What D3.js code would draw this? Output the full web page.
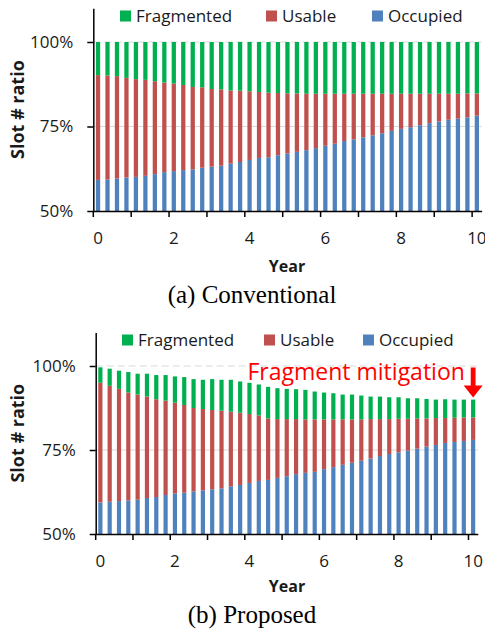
<!DOCTYPE html>
<html>
<head>
<meta charset="utf-8">
<script src="https://cdn.jsdelivr.net/npm/d3@7"></script>
<style>
  body { margin: 0; background: #fff; }
  svg text { font-family: "Open Sans", sans-serif; fill: #1a1a1a; }
</style>
</head>
<body>
<div id="chart"></div>
<script>
// quarterly samples over ten years
var years = [0, 0.25, 0.5, 0.75, 1, 1.25, 1.5, 1.75, 2, 2.25, 2.5, 2.75, 3, 3.25, 3.5, 3.75,
  4, 4.25, 4.5, 4.75, 5, 5.25, 5.5, 5.75, 6, 6.25, 6.5, 6.75, 7, 7.25, 7.5, 7.75,
  8, 8.25, 8.5, 8.75, 9, 9.25, 9.5, 9.75, 10];
var keys = ["Occupied", "Usable", "Fragmented"];
var legendOrder = ["Fragmented", "Usable", "Occupied"];
var yTicks = [50, 75, 100];
var xLabels = [0, 2, 4, 6, 8, 10];

// (a) Conventional, values in %
var occupiedA = [59.2, 59.3, 59.6, 59.9, 60.1, 60.4, 60.9, 61.5, 61.8, 62.1, 62.3, 62.8, 63.1, 63.4, 64.0, 64.5,
  65.1, 65.7, 65.9, 66.5, 67.0, 67.5, 68.0, 68.6, 69.3, 69.9, 70.7, 71.2, 71.8, 72.4, 73.0, 73.7,
  74.3, 74.8, 75.4, 76.0, 76.5, 77.0, 77.3, 77.7, 78.2];
var usableA = [31.0, 30.8, 30.3, 29.5, 28.9, 28.4, 27.5, 26.5, 25.9, 25.2, 24.4, 23.8, 23.0, 22.6, 21.7, 21.1,
  20.3, 19.5, 19.1, 18.4, 17.8, 17.3, 16.7, 16.1, 15.4, 14.8, 14.0, 13.5, 12.9, 12.3, 11.7, 11.0,
  10.4, 9.9, 9.3, 8.7, 8.2, 7.7, 7.4, 7.1, 6.6];
var fragmentedA = [9.8, 9.9, 10.1, 10.6, 11.0, 11.2, 11.6, 12.0, 12.3, 12.7, 13.3, 13.4, 13.9, 14.0, 14.3, 14.4,
  14.6, 14.8, 15.0, 15.1, 15.2, 15.2, 15.3, 15.3, 15.3, 15.3, 15.3, 15.3, 15.3, 15.3, 15.3, 15.3,
  15.3, 15.3, 15.3, 15.3, 15.3, 15.3, 15.3, 15.2, 15.2];

// (b) Proposed, values in %
var occupiedB = [59.4, 59.6, 59.8, 60.0, 60.2, 60.7, 61.0, 61.6, 62.1, 62.3, 62.7, 63.0, 63.3, 63.6, 64.2, 64.6,
  65.2, 65.8, 66.1, 66.7, 67.2, 67.8, 68.2, 68.5, 69.3, 69.9, 70.6, 71.2, 71.8, 72.5, 73.2, 73.8,
  74.3, 74.8, 75.4, 76.0, 76.5, 77.1, 77.4, 77.7, 78.0];
var usableB = [35.6, 34.5, 33.4, 32.1, 31.3, 30.2, 29.1, 28.1, 27.0, 26.1, 24.8, 24.2, 23.6, 23.1, 22.2, 21.5,
  20.5, 19.5, 18.3, 17.5, 17.0, 16.4, 15.9, 15.6, 14.8, 14.2, 13.5, 12.9, 12.3, 11.7, 11.0, 10.4,
  10.0, 9.5, 9.0, 8.4, 8.0, 7.4, 7.2, 7.0, 6.7];
var fragmentedB = [4.6, 5.1, 5.4, 6.1, 6.2, 6.8, 7.2, 7.6, 7.8, 8.3, 8.6, 8.7, 9.2, 9.2, 9.5, 9.3,
  9.3, 9.2, 9.4, 9.2, 9.0, 8.9, 8.8, 8.3, 8.0, 7.8, 7.4, 7.4, 7.1, 6.7, 6.7, 6.5,
  6.4, 6.1, 6.0, 5.8, 5.5, 5.6, 5.4, 5.3, 5.3];

var color = d3.scaleOrdinal()
  .domain(keys)
  .range(["#4f81bd", "#c0504d", "#00b050"]);

var svg = d3.select("#chart")
  .append("svg")
  .attr("width", 485)
  .attr("height", 632);

function drawPanel(cfg, occ, use, frag) {
  var rows = years.map(function(yr, i) {
    return {year: yr, Occupied: occ[i], Usable: use[i], Fragmented: frag[i]};
  });
  var series = d3.stack().keys(keys)(rows);

  var x = d3.scaleBand()
    .domain(years)
    .range([cfg.left, cfg.right])
    .paddingInner(0.55)
    .paddingOuter(0.275);
  var y = d3.scaleLinear()
    .domain([50, 110])
    .range([cfg.bottom, cfg.top])
    .clamp(true);

  var g = svg.append("g");

  // gridlines
  g.selectAll(".grid")
    .data([75, 100])
    .enter()
    .append("line")
      .attr("x1", cfg.left)
      .attr("x2", cfg.right)
      .attr("y1", function(d) { return y(d); })
      .attr("y2", function(d) { return y(d); })
      .style("stroke", "#d9d9d9")
      .style("stroke-width", 1)
      .style("stroke-dasharray", function(d) { return d == 100 ? "7,4" : null; });

  g.selectAll(".layer")
    .data(series)
    .enter()
    .append("g")
      .style("fill", function(d) { return color(d.key); })
    .selectAll("rect")
    .data(function(d) { return d; })
    .enter()
    .append("rect")
      .attr("x", function(d) { return x(d.data.year); })
      .attr("width", x.bandwidth())
      .attr("y", function(d) { return y(d[1]); })
      .attr("height", function(d) { return y(d[0]) - y(d[1]); });

  // y axis
  var yAxis = g.append("g")
    .attr("transform", "translate(" + cfg.left + ",0)")
    .call(d3.axisLeft(y).tickValues(yTicks).tickSize(6).tickSizeOuter(0)
      .tickFormat(function(d) { return d + "%"; }));
  yAxis.selectAll("text")
    .attr("x", -20)
    .style("font-size", "17px");

  // x axis: ticks on category boundaries every year, labels every 2 years
  var step = x.step();
  var xAxis = g.append("g")
    .attr("transform", "translate(0," + cfg.bottom + ")")
    .call(d3.axisBottom(x)
      .tickValues(years.filter(function(d, i) { return i % 4 == 0; }))
      .tickSize(6).tickSizeOuter(0)
      .tickFormat(function(d) { return xLabels.indexOf(d) >= 0 ? d : ""; }));
  xAxis.selectAll(".tick line")
    .attr("x1", -step / 2)
    .attr("x2", -step / 2);
  xAxis.selectAll("text")
    .attr("y", 21)
    .style("font-size", "17px");

  g.selectAll(".domain, .tick line")
    .style("stroke", "#000")
    .style("stroke-width", 1.5);

  // axis titles
  g.append("text")
    .attr("transform", "translate(" + cfg.yTitleX + "," + y(80) + ") rotate(-90)")
    .attr("text-anchor", "middle")
    .style("font-size", "18px")
    .style("font-weight", "bold")
    .text("Slot # ratio");

  g.append("text")
    .attr("x", cfg.yearX)
    .attr("y", cfg.yearY)
    .attr("text-anchor", "middle")
    .style("font-size", "16px")
    .style("font-weight", "bold")
    .text("Year");

  g.append("text")
    .attr("x", 252)
    .attr("y", cfg.captionY)
    .attr("text-anchor", "middle")
    .style("font-family", "'Liberation Serif', 'Times New Roman', serif")
    .style("font-size", "25px")
    .style("fill", "#000")
    .text(cfg.caption);

  // legend
  var leg = g.selectAll(".legend")
    .data(legendOrder)
    .enter()
    .append("g")
      .attr("transform", function(d, i) { return "translate(" + cfg.legendX[i] + "," + cfg.legendY + ")"; });
  leg.append("rect")
    .attr("x", 0)
    .attr("y", -11)
    .attr("width", 11)
    .attr("height", 11)
    .style("fill", function(d) { return color(d); });
  leg.append("text")
    .attr("x", 16)
    .attr("y", 0)
    .style("font-size", "17px")
    .text(function(d) { return d; });

  return {g: g, x: x, y: y};
}

var top = drawPanel({left: 93.3, right: 481.6, top: 8.2, bottom: 211, yTitleX: 24,
  yearX: 287, yearY: 271.5, captionY: 303, caption: "(a) Conventional",
  legendX: [120, 266, 372], legendY: 21.5}, occupiedA, usableA, fragmentedA);

var bot = drawPanel({left: 95.7, right: 477.8, top: 332.4, bottom: 534, yTitleX: 24,
  yearX: 287, yearY: 591.5, captionY: 622.5, caption: "(b) Proposed",
  legendX: [122, 264, 363], legendY: 345.5}, occupiedB, usableB, fragmentedB);

// annotation on the last bar of the proposed scheme
var lastYear = years[years.length - 1];
var ax = bot.x(lastYear) + bot.x.bandwidth() / 2;
var tipY = bot.y(occupiedB[40] + usableB[40] + fragmentedB[40]) - 2;

bot.g.append("text")
  .attr("x", 247.5)
  .attr("y", 380)
  .style("font-size", "23px")
  .style("fill", "#ff0000")
  .text("Fragment mitigation");

bot.g.append("path")
  .attr("d", "M" + (ax - 2.4) + "," + (tipY - 30) + "V" + (tipY - 12) + "H" + (ax - 9.5) +
    "L" + ax + "," + tipY + "L" + (ax + 9.5) + "," + (tipY - 12) + "H" + (ax + 2.4) + "V" + (tipY - 30) + "Z")
  .style("fill", "#ff0000");
</script>
</body>
</html>
